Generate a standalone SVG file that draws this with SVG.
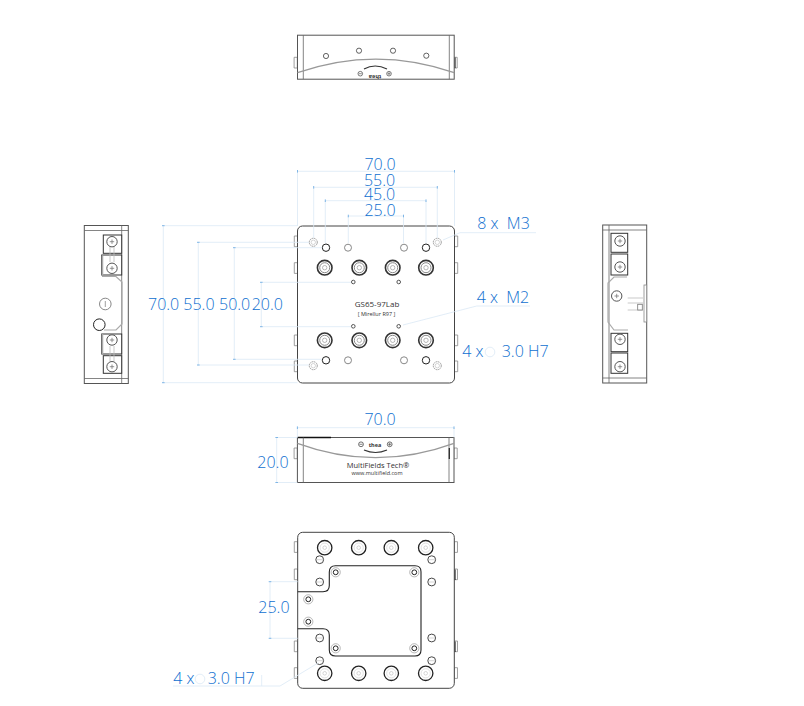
<svg xmlns="http://www.w3.org/2000/svg" xmlns:xlink="http://www.w3.org/1999/xlink" width="804" height="706" viewBox="0 0 804 706">
<style>
.o{fill:#fff;stroke:#555;stroke-width:1}
.n{fill:none;stroke:#666;stroke-width:.8}
.g{fill:none;stroke:#aaa;stroke-width:1.2}
.k{fill:none;stroke:#222;stroke-width:1.1}
.d{fill:none;stroke:#dbe9f5;stroke-width:.8}
.t{fill:none;stroke:#7fb6e6;stroke-width:1}
.l{font-family:"Open Sans","Liberation Sans",sans-serif;font-weight:300;font-size:16px;fill:#0f6fd0}
.b{font-family:"Open Sans","Liberation Sans",sans-serif;font-size:7.5px;fill:#333}
.s{font-family:"Open Sans","Liberation Sans",sans-serif;font-size:5.5px;fill:#333}
</style>
<defs>
<g id="big"><circle r="7.3" fill="#fff" stroke="#333" stroke-width="1.6"/><circle r="5" fill="none" stroke="#888" stroke-width="1"/><circle r="2.2" fill="none" stroke="#999" stroke-width=".7"/></g>
<g id="bigb"><circle r="7.2" fill="#fff" stroke="#222" stroke-width="1.3"/><circle r="4.6" fill="none" stroke="#ccc" stroke-width=".6"/><circle r="1.8" fill="none" stroke="#bbb" stroke-width=".6"/></g>
<circle id="blk" r="3.7" fill="#fff" stroke="#222" stroke-width="1"/>
<circle id="gry" r="3.500" fill="#fff" stroke="#888" stroke-width="1"/>
<circle id="sml" r="1.800" fill="#fff" stroke="#444" stroke-width=".9"/>
<g id="lgt"><circle r="4" fill="#fff" stroke="#999" stroke-width="1" stroke-dasharray="1.5 .6"/><circle r="2.200" fill="none" stroke="#bbb" stroke-width=".6"/></g>
<g id="dbl"><circle r="4.600" fill="#fff" stroke="#999" stroke-width=".7"/><circle r="2.400" fill="none" stroke="#222" stroke-width="1"/></g>
<g id="oval"><circle r="3.900" fill="#fff" stroke="#333" stroke-width=".9"/><path d="M-3.900 0H3.900" stroke="#aaa" stroke-width=".5"/></g>
<g id="scr"><circle r="5.200" fill="#fff" stroke="#555" stroke-width="1"/><path d="M-2.200 0H2.200M0-2.200V2.200" stroke="#777" stroke-width=".8"/></g>
<path id="tab" d="M0 0H3.200V10.700H0Z" fill="#fff" stroke="#888" stroke-width=".8"/>
</defs>
<rect width="804" height="706" fill="#fff"/>

<g id="top-view">
<use xlink:href="#tab" x="294.100" y="57.300"/><use xlink:href="#tab" x="454" y="57.300"/>
<path d="M455 57.500V68" stroke="#222" stroke-width="1.200"/>
<rect class="o" x="297.500" y="35.200" width="156.700" height="44"/>
<path class="n" d="M303.300 35.200V79.200M449.300 35.200V79.200"/>
<path d="M297.500 72.700Q376 45.500 454.200 72.700" fill="none" stroke="#999" stroke-width="1.300"/>
<use xlink:href="#blk" transform="translate(326 56) scale(.7)"/><use xlink:href="#blk" transform="translate(359 50.700) scale(.7)"/><use xlink:href="#blk" transform="translate(393 50.700) scale(.7)"/><use xlink:href="#blk" transform="translate(426.300 55.700) scale(.7)"/>
<path d="M364 69Q375 63 387 69" fill="none" stroke="#333" stroke-width="1.200"/>
<circle cx="360.300" cy="73.700" r="2.300" fill="none" stroke="#444" stroke-width=".7"/><path d="M358.800 73.700H361.800" stroke="#444" stroke-width=".6"/>
<circle cx="389" cy="73.700" r="2.300" fill="none" stroke="#444" stroke-width=".7"/><path d="M387.500 73.700H390.500M389 72.200V75.200" stroke="#444" stroke-width=".6"/>
<text class="s" x="375" y="72" text-anchor="middle" font-weight="700" transform="rotate(180 375 73.500)">thea</text>
</g>

<g id="plan-view">
<use xlink:href="#tab" x="294.300" y="236"/><use xlink:href="#tab" x="294.300" y="262.700"/><use xlink:href="#tab" x="294.300" y="335"/><use xlink:href="#tab" x="294.300" y="361"/>
<use xlink:href="#tab" x="454.500" y="236"/><use xlink:href="#tab" x="454.500" y="262.700"/><use xlink:href="#tab" x="454.500" y="335"/><use xlink:href="#tab" x="454.500" y="361"/>
<rect x="297.500" y="226" width="157" height="157" rx="5" fill="#fff" stroke="#444" stroke-width="1"/>
<use xlink:href="#lgt" x="313.300" y="242.300"/><use xlink:href="#lgt" x="437.300" y="242.300"/><use xlink:href="#lgt" x="313.300" y="365.700"/><use xlink:href="#lgt" x="437.300" y="365.700"/>
<use xlink:href="#blk" x="326" y="247.700"/><use xlink:href="#blk" x="426" y="247.700"/><use xlink:href="#blk" x="326" y="360.300"/><use xlink:href="#blk" x="426" y="360.300"/>
<use xlink:href="#gry" x="348" y="247.700"/><use xlink:href="#gry" x="404" y="247.700"/><use xlink:href="#gry" x="348" y="360.300"/><use xlink:href="#gry" x="404" y="360.300"/>
<use xlink:href="#big" x="324.700" y="267.700"/><use xlink:href="#big" x="359.300" y="267.700"/><use xlink:href="#big" x="392.700" y="267.700"/><use xlink:href="#big" x="426" y="267.700"/>
<use xlink:href="#big" x="324.700" y="340.300"/><use xlink:href="#big" x="359.300" y="340.300"/><use xlink:href="#big" x="392.700" y="340.300"/><use xlink:href="#big" x="426" y="340.300"/>
<use xlink:href="#sml" x="353.300" y="282"/><use xlink:href="#sml" x="398.700" y="282"/><use xlink:href="#sml" x="353.300" y="326.300"/><use xlink:href="#sml" x="398.700" y="326.300"/>
<text x="377" y="306.500" text-anchor="middle" font-family="'Open Sans','Liberation Sans',sans-serif" font-size="8" fill="#333">GS65-97Lab</text>
<text class="s" x="376.500" y="315.500" text-anchor="middle">[ Mirellur R97 ]</text>
</g>

<g id="left-view">
<rect class="o" x="84.300" y="225.500" width="44" height="158"/>
<path class="n" d="M121.700 225.500V383.500M84.300 230.500H128.300M84.300 378.500H128.300"/>
<rect x="103.300" y="235" width="18.400" height="18.300" fill="#fff" stroke="#333"/>
<rect x="101.700" y="255" width="20" height="20" fill="#fff" stroke="#333"/>
<rect x="101.700" y="334" width="20" height="20" fill="#fff" stroke="#333"/>
<rect x="103.300" y="355.700" width="18.400" height="17.600" fill="#fff" stroke="#333"/>
<path d="M102.500 255.500V275M102.500 334V354" stroke="#aaa" stroke-width="1.500"/>
<path d="M110 247V262M114 247V262M110 346V361M114 346V361" stroke="#bbb" stroke-width=".8"/>
<use xlink:href="#scr" x="112" y="241.700"/><use xlink:href="#scr" x="112" y="268.300"/><use xlink:href="#scr" x="112" y="340"/><use xlink:href="#scr" x="112" y="366.700"/>
<path class="g" d="M102 276.500H116L122 282L122 324L116 330H104"/>
<circle cx="105.300" cy="304" r="5.800" fill="#fff" stroke="#888" stroke-width="1"/><path d="M105.300 301V307" stroke="#888" stroke-width=".8"/>
<circle cx="99.300" cy="324.700" r="5.800" fill="#fff" stroke="#222" stroke-width="1"/>
</g>

<g id="right-view">
<rect class="o" x="602.700" y="225" width="44" height="158"/>
<path class="n" d="M609 225V383M602.700 230H646.700M602.700 378H646.700"/>
<rect x="644" y="285" width="2.700" height="37" fill="#fff" stroke="#888" stroke-width=".8"/>
<rect x="611" y="233.300" width="16.700" height="19" fill="#fff" stroke="#333"/>
<rect x="611" y="254" width="16.700" height="21" fill="#fff" stroke="#333"/>
<rect x="611" y="333.300" width="16.700" height="18.400" fill="#fff" stroke="#333"/>
<rect x="611" y="353" width="16.700" height="20.300" fill="#fff" stroke="#333"/>
<use xlink:href="#scr" x="620" y="241"/><use xlink:href="#scr" x="620" y="267"/><use xlink:href="#scr" x="620" y="339.300"/><use xlink:href="#scr" x="620" y="366.700"/>
<path class="g" d="M627 277H614L608 283V322L614 330H628"/>
<use xlink:href="#scr" x="616.700" y="296"/>
<path d="M627.700 298H643M627.700 303H643M627.700 310H643" fill="none" stroke="#bbb" stroke-width=".8"/>
<rect x="637.700" y="304.300" width="4.600" height="5.700" fill="#fff" stroke="#777" stroke-width=".8"/>
</g>

<g id="front-view">
<use xlink:href="#tab" x="294.100" y="448"/><use xlink:href="#tab" x="454" y="448"/>
<rect class="o" x="297.400" y="437.500" width="156.600" height="45"/>
<path d="M297.400 437.500H331" stroke="#111" stroke-width="1.300"/>
<path class="n" d="M303.300 437.500V482.500M449 437.500V482.500"/>
<path d="M449.300 448V459" stroke="#222" stroke-width="1.200"/>
<path d="M297.400 443.300Q375.500 472 454 443.300" fill="none" stroke="#999" stroke-width="1.300"/>
<circle cx="361" cy="444.300" r="2.400" fill="none" stroke="#333" stroke-width=".7"/><path d="M359.400 444.300H362.600" stroke="#333" stroke-width=".6"/>
<circle cx="389.700" cy="444.300" r="2.400" fill="none" stroke="#333" stroke-width=".7"/><path d="M388.100 444.300H391.300M389.700 442.700V445.900" stroke="#333" stroke-width=".6"/>
<text class="s" x="375" y="446.500" text-anchor="middle" font-weight="700">thea</text>
<path d="M364 450Q375.500 455 387 450" fill="none" stroke="#333" stroke-width="1.200"/>
<text class="b" x="378" y="467.700" text-anchor="middle">MultiFields Tech®</text>
<text class="s" x="377" y="474.500" text-anchor="middle">www.multifield.com</text>
</g>

<g id="bottom-view">
<use xlink:href="#tab" x="294.300" y="541.700"/><use xlink:href="#tab" x="294.300" y="569"/><use xlink:href="#tab" x="294.300" y="641"/><use xlink:href="#tab" x="294.300" y="667.700"/>
<use xlink:href="#tab" x="454.300" y="541.700"/><use xlink:href="#tab" x="454.300" y="569"/><use xlink:href="#tab" x="454.300" y="641"/><use xlink:href="#tab" x="454.300" y="667.700"/>
<path d="M455 569.500V580M455 641.500V652" stroke="#222" stroke-width="1.200"/>
<rect x="297.700" y="532.300" width="156.600" height="156" rx="5" fill="#fff" stroke="#444" stroke-width="1"/>
<path class="k" d="M297.700 591.700H323Q329.300 591.700 329.300 585.500V572Q329.300 565.700 335.500 565.700H415Q421 565.700 421 571.700V650Q421 656 415 656H335.500Q329.300 656 329.300 650V635Q329.300 628.700 323 628.700H297.700"/>
<use xlink:href="#bigb" x="324.700" y="547.700"/><use xlink:href="#bigb" x="358.700" y="547.700"/><use xlink:href="#bigb" x="391.300" y="547.700"/><use xlink:href="#bigb" x="425.700" y="547.700"/>
<use xlink:href="#bigb" x="324.700" y="673.300"/><use xlink:href="#bigb" x="358.700" y="673.300"/><use xlink:href="#bigb" x="391.300" y="673.300"/><use xlink:href="#bigb" x="425.700" y="673.300"/>
<use xlink:href="#oval" x="319.700" y="559.700"/><use xlink:href="#oval" x="431.700" y="559.700"/><use xlink:href="#oval" x="319.700" y="660.700"/><use xlink:href="#oval" x="431.700" y="660.700"/>
<use xlink:href="#oval" x="319.700" y="582"/><use xlink:href="#oval" x="431.700" y="582"/><use xlink:href="#oval" x="319.700" y="638"/><use xlink:href="#oval" x="431.700" y="638"/>
<use xlink:href="#dbl" x="335.700" y="572.300"/><use xlink:href="#dbl" x="414.300" y="572.300"/><use xlink:href="#dbl" x="335.700" y="648.300"/><use xlink:href="#dbl" x="414.300" y="648.300"/>
<use xlink:href="#dbl" x="308.300" y="599.300"/><use xlink:href="#dbl" x="308.300" y="621.700"/>
</g>

<g id="connectors">
<path class="d" d="M297.500 171.300V226M454.500 171.300V226M297.500 171.300H454.500M313.700 187.300V238M437.300 187.300V238M313.700 187.300H437.300M325.300 200.700V243M426 200.700V243M325.300 200.700H426M348.300 216V243M403.500 216V243M348.300 216H403.500"/>
<path class="d" d="M163.300 225.700H297.500M163.300 382.700H297.500M163.300 225.700V382.700M198.300 242.300H309M198.300 365H309M198.300 242.300V365M234.300 247.700H322M234.300 359.300H322M234.300 247.700V359.300M261.300 282.300H351M261.300 326.700H351M261.300 282.300V326.700"/>
<path class="d" d="M297.400 427.700H454M297.400 427.700V437.500M454 427.700V437.500M276.700 437.500H297.400M276.700 482.500H297.400M276.700 437.500V482.500"/>
<path class="d" d="M270 581.700H297.700M270 638.300H297.700M270 581.700V638.300"/>
<path class="d" d="M443 240L460 232.700H536M403 325L476.700 306H530M173 686H280L318 663M261.700 675V686"/>
<path class="t" d="M297.500 170V172.600M454.500 170V172.600M313.700 186V188.600M437.300 186V188.600M325.300 199.400V202M426 199.400V202M348.300 214.700V217.300M403.500 214.700V217.300M162 225.700H164.600M162 382.700H164.600M197 242.300H199.600M197 365H199.600M233 247.700H235.600M233 359.300H235.600M260 282.300H262.600M260 326.700H262.600M297.400 426.400V429M454 426.400V429M275.400 437.500H278M275.400 482.500H278M268.700 581.700H271.300M268.700 638.300H271.300"/>
<text class="l" x="380" y="170" text-anchor="middle">70.0</text>
<text class="l" x="379.500" y="186" text-anchor="middle">55.0</text>
<text class="l" x="379.500" y="200" text-anchor="middle">45.0</text>
<text class="l" x="380" y="216" text-anchor="middle">25.0</text>
<text class="l" x="477.300" y="229.300" xml:space="preserve">8 x  M3</text>
<text class="l" x="476.700" y="303.300" xml:space="preserve">4 x  M2</text>
<text class="l" x="462.300" y="357.300">4 x</text>
<circle cx="490" cy="352" r="4.800" fill="none" stroke="#e3eef8" stroke-width="1"/>
<text class="l" x="501.700" y="357.300">3.0 H7</text>
<text class="l" x="148" y="309.700">70.0</text>
<text class="l" x="183.300" y="309.700">55.0</text>
<text class="l" x="219" y="309.700">50.0</text>
<text class="l" x="251.700" y="309.700">20.0</text>
<text class="l" x="380" y="425" text-anchor="middle">70.0</text>
<text class="l" x="257.300" y="467.700">20.0</text>
<text class="l" x="258.300" y="613">25.0</text>
<text class="l" x="173.300" y="684.300">4 x</text>
<circle cx="200" cy="679" r="4.800" fill="none" stroke="#e3eef8" stroke-width="1"/>
<text class="l" x="207.700" y="684.300">3.0 H7</text>
</g>
</svg>
